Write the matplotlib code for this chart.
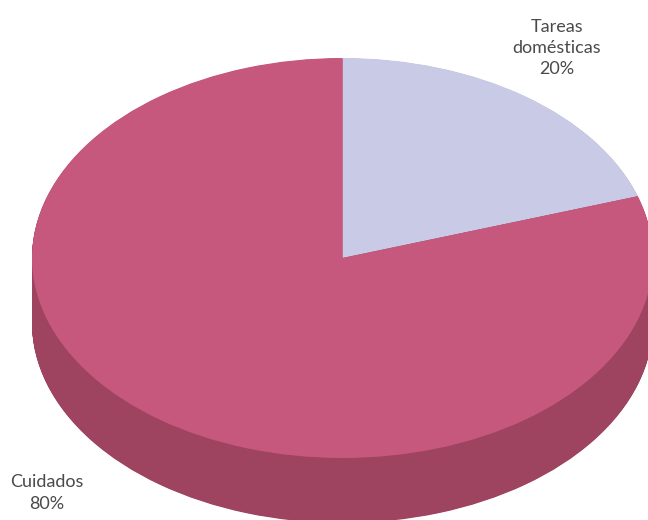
import matplotlib.pyplot as plt

categories = ["Tareas\ndomésticas", "Cuidados"]
values = [20, 80]
colors = ["#C9CBE6", "#C5587C"]
wall_color = "#9E4360"

plt.rcParams["font.family"] = ["Lato", "DejaVu Sans"]

fig = plt.figure(figsize=(6.48, 5.2), dpi=100)
ax = fig.add_axes([0, 0, 1, 1])

# side wall first, stacked copies of the pie pushed down
depth = 0.325
steps = 130
for i in range(steps, 0, -1):
    ax.pie(
        values,
        colors=[wall_color, wall_color],
        startangle=90,
        counterclock=False,
        radius=1,
        center=(0, -depth * i / steps),
    )

ax.pie(values, colors=colors, startangle=90, counterclock=False, radius=1)

ax.set_aspect("auto")
ax.set_xlim(-342.5 / 310.5, 305.5 / 310.5)
ax.set_ylim(-262 / 200, 258 / 200)
ax.axis("off")

ax.text(0.69, 1.05, f"{categories[0]}\n{values[0]}%", ha="center", va="center",
        fontsize=13, color="#4A4A4A", linespacing=1.41)
ax.text(-0.953, -1.175, f"{categories[1]}\n{values[1]}%", ha="center", va="center",
        fontsize=13, color="#4A4A4A", linespacing=1.41)

fig.savefig("out.png", dpi=100)
plt.close()
